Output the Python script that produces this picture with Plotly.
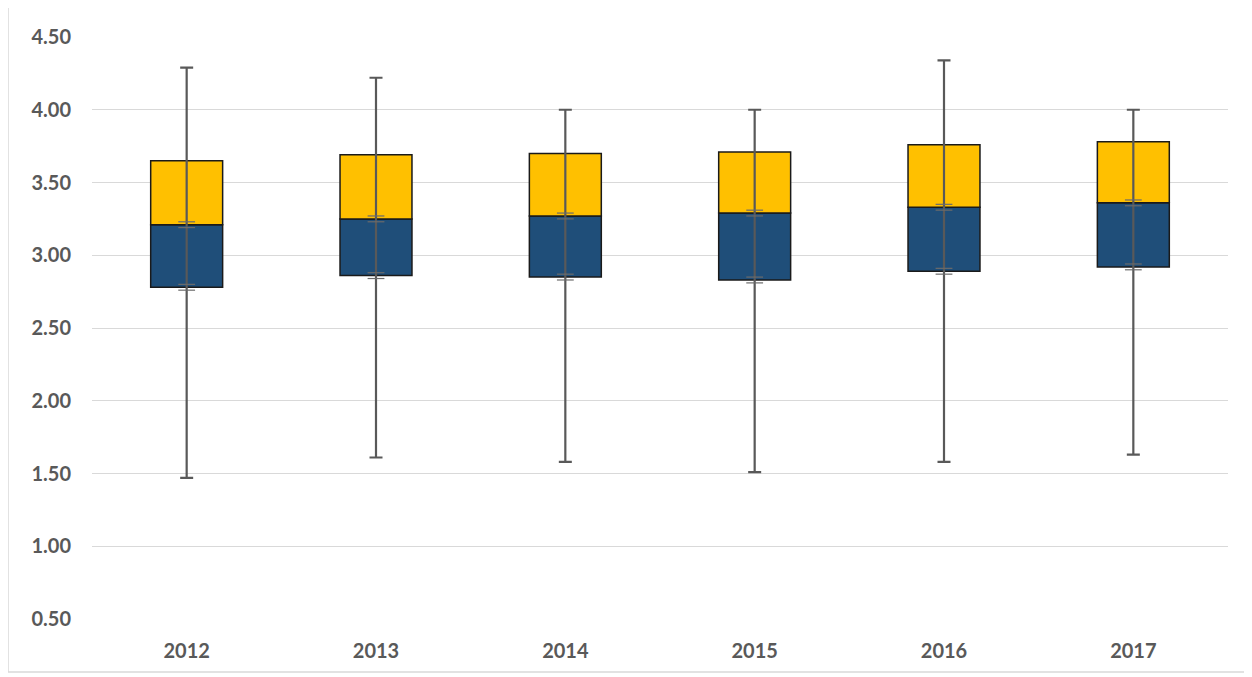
import plotly.graph_objects as go

years = ["2012", "2013", "2014", "2015", "2016", "2017"]
min_vals = [1.47, 1.61, 1.58, 1.51, 1.58, 1.63]
q1_vals = [2.78, 2.86, 2.85, 2.83, 2.89, 2.92]
median_vals = [3.21, 3.25, 3.27, 3.29, 3.33, 3.36]
q3_vals = [3.65, 3.69, 3.70, 3.71, 3.76, 3.78]
max_vals = [4.29, 4.22, 4.00, 4.00, 4.34, 4.00]
tick_offset = 0.02  # small error-bar ticks around median and Q1

y_ticks = [0.5, 1.0, 1.5, 2.0, 2.5, 3.0, 3.5, 4.0, 4.5]

# page body has an 8px margin, so the figure is slightly smaller and shifted
OFF = 8
W, H = 1244, 669
L, R, T, B = 84, 24, 29, 58

font_family = "Lato, 'Open Sans', sans-serif"
text_color = "#595959"
whisker_color = "#595959"

fig = go.Figure()

# Lower box (Q1 -> median)
fig.add_trace(go.Bar(
    x=years,
    y=[m - q for m, q in zip(median_vals, q1_vals)],
    base=q1_vals,
    marker=dict(color="#1F4E79", line=dict(color="#1a1a1a", width=1.5)),
    width=0.38,
    hoverinfo="skip",
    showlegend=False,
))
# Upper box (median -> Q3)
fig.add_trace(go.Bar(
    x=years,
    y=[q - m for q, m in zip(q3_vals, median_vals)],
    base=median_vals,
    marker=dict(color="#FFC000", line=dict(color="#1a1a1a", width=1.5)),
    width=0.38,
    hoverinfo="skip",
    showlegend=False,
))

# Whiskers min -> max
mid = [(a + b) / 2 for a, b in zip(min_vals, max_vals)]
half = [(b - a) / 2 for a, b in zip(min_vals, max_vals)]
fig.add_trace(go.Scatter(
    x=years,
    y=mid,
    mode="markers",
    marker=dict(size=1, opacity=0),
    error_y=dict(type="data", array=half, arrayminus=half, symmetric=False,
                 color=whisker_color, thickness=2.2, width=6.5),
    hoverinfo="skip",
    showlegend=False,
))

# Small ticks near median and Q1
tick_x = years * 4
tick_y = ([m + tick_offset for m in median_vals] + [m - tick_offset for m in median_vals]
          + [q + tick_offset for q in q1_vals] + [q - tick_offset for q in q1_vals])
fig.add_trace(go.Scatter(
    x=tick_x,
    y=tick_y,
    mode="markers",
    marker=dict(symbol="line-ew", size=12, line=dict(color="#6b6b6b", width=1.2)),
    hoverinfo="skip",
    showlegend=False,
))

# Outer chart border (paper coordinates derived from screen pixel layout)
pw = W - L - R
ph = H - T - B
def px_x(px):
    return (px - OFF - L) / pw
def px_y(py):
    return (H - B - (py - OFF)) / ph

fig.add_shape(type="rect", xref="paper", yref="paper",
              x0=px_x(8), x1=px_x(1245), y0=px_y(672), y1=px_y(6),
              line=dict(color="#D9D9D9", width=1.5), fillcolor="rgba(0,0,0,0)",
              layer="below")

fig.update_layout(
    width=W, height=H,
    margin=dict(l=L, r=R, t=T, b=B),
    paper_bgcolor="white",
    plot_bgcolor="white",
    barmode="overlay",
    font=dict(family=font_family, color=text_color, size=20),
    xaxis=dict(
        type="category",
        range=[-0.5, 5.5],
        showgrid=False,
        zeroline=False,
        showline=False,
        ticks="",
        tickfont=dict(family=font_family, size=20, color=text_color, weight="bold"),
        ticklabelstandoff=18,
    ),
    yaxis=dict(
        range=[0.5, 4.5],
        tickvals=y_ticks,
        ticktext=[f"{v:.2f}" for v in y_ticks],
        showgrid=True,
        gridcolor="#D9D9D9",
        gridwidth=1,
        zeroline=False,
        showline=False,
        ticks="",
        tickfont=dict(family=font_family, size=20, color=text_color, weight="bold"),
        ticklabelstandoff=20,
    ),
)

fig.write_html("out.html")
